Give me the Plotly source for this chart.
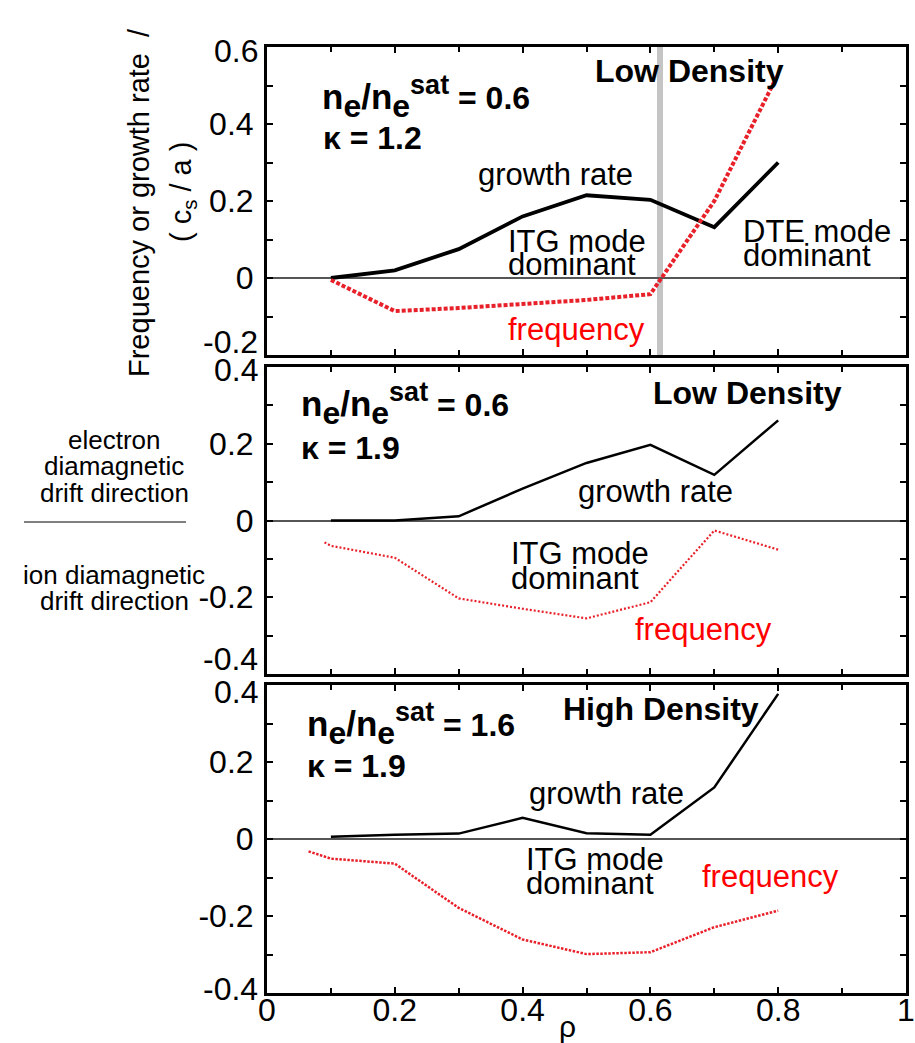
import plotly.graph_objects as go

# ---------------- data ----------------
rho = [0.1, 0.2, 0.3, 0.4, 0.5, 0.6, 0.7, 0.8]

# panel 1: n_e/n_e^sat = 0.6, kappa = 1.2
growth_k12 = [0.0, 0.02, 0.075, 0.16, 0.215, 0.203, 0.132, 0.30]
freq_k12 = [-0.005, -0.086, -0.078, -0.068, -0.057, -0.042, 0.20, 0.53]

# panel 2: n_e/n_e^sat = 0.6, kappa = 1.9
growth_k19_low = [0.0, 0.0, 0.011, 0.083, 0.150, 0.197, 0.119, 0.261]
freq_k19_low_rho = [0.09, 0.1, 0.2, 0.3, 0.4, 0.5, 0.6, 0.7, 0.8]
freq_k19_low = [-0.057, -0.066, -0.097, -0.203, -0.230, -0.255, -0.213, -0.026, -0.076]

# panel 3: n_e/n_e^sat = 1.6, kappa = 1.9
growth_k19_high = [0.006, 0.011, 0.014, 0.055, 0.015, 0.011, 0.134, 0.377]
freq_k19_high_rho = [0.065, 0.1, 0.2, 0.3, 0.4, 0.5, 0.6, 0.7, 0.8]
freq_k19_high = [-0.032, -0.051, -0.064, -0.179, -0.261, -0.299, -0.294, -0.229, -0.186]

x_ticks = [0, 0.2, 0.4, 0.6, 0.8, 1]
x_ticktext = ["0", "0.2", "0.4", "0.6", "0.8", "1"]
y1_ticks, y1_ticktext = [0, 0.2, 0.4], ["0", "0.2", "0.4"]
y23_ticks, y23_ticktext = [-0.2, 0, 0.2], ["-0.2", "0", "0.2"]
itg_transition = 0.615

# ---------------- page geometry ----------------
W_PAGE, H_PAGE = 915, 1043
L, R, T, B = 267, 906, 47, 993
PW, PH = R - L, B - T


def xp(px):
    return (px - L) / PW


def yp(py):
    return (B - py) / PH


FONT = "Liberation Sans, Arial, Helvetica, sans-serif"
RED_LINE = "#e8202a"
RED_TEXT = "#ff0000"

fig = go.Figure()

# growth rates (solid black) and real frequencies (red dotted)
fig.add_trace(go.Scatter(x=rho, y=growth_k12, mode="lines", xaxis="x", yaxis="y",
                         line=dict(color="black", width=3.8)))
fig.add_trace(go.Scatter(x=rho, y=freq_k12, mode="lines", xaxis="x", yaxis="y",
                         line=dict(color=RED_LINE, width=4, dash="4px,2px")))

fig.add_trace(go.Scatter(x=rho, y=growth_k19_low, mode="lines", xaxis="x2", yaxis="y2",
                         line=dict(color="black", width=2.5)))
fig.add_trace(go.Scatter(x=freq_k19_low_rho, y=freq_k19_low, mode="lines", xaxis="x2", yaxis="y2",
                         line=dict(color=RED_LINE, width=2.2, dash="2px,2px")))

fig.add_trace(go.Scatter(x=rho, y=growth_k19_high, mode="lines", xaxis="x3", yaxis="y3",
                         line=dict(color="black", width=2.5)))
fig.add_trace(go.Scatter(x=freq_k19_high_rho, y=freq_k19_high, mode="lines", xaxis="x3", yaxis="y3",
                         line=dict(color=RED_LINE, width=2.5, dash="2.5px,1.5px")))

# ---------------- axes ----------------
minor_x = dict(tickmode="linear", tick0=0, dtick=0.1, ticks="inside", ticklen=5,
               tickwidth=1.5, tickcolor="black")
minor_y = dict(tickmode="linear", tick0=0, dtick=0.1, ticks="inside", ticklen=6,
               tickwidth=1.5, tickcolor="black")


def xaxis(anchor, labels):
    return dict(domain=[0, 1], anchor=anchor, range=[0, 1], tickmode="array",
                tickvals=x_ticks, ticktext=x_ticktext, showticklabels=labels,
                ticks="inside", ticklen=6, tickwidth=1.5, tickcolor="black",
                showline=True, linewidth=3, linecolor="black", mirror="allticks",
                showgrid=False, zeroline=False, minor=minor_x, automargin=False,
                tickfont=dict(size=32, family=FONT, color="black"),
                ticklabelstandoff=-13)


def yaxis(anchor, domain, rng, vals, text):
    return dict(domain=domain, anchor=anchor, range=rng, tickmode="array",
                tickvals=vals, ticktext=text, ticks="inside", ticklen=6,
                tickwidth=1.5, tickcolor="black", showline=True, linewidth=3,
                linecolor="black", mirror="allticks", showgrid=False,
                zeroline=True, zerolinecolor="#555555", zerolinewidth=1.5,
                minor=minor_y, automargin=False,
                tickfont=dict(size=32, family=FONT, color="black"),
                ticklabelstandoff=4)


fig.update_layout(
    width=W_PAGE, height=H_PAGE,
    margin=dict(l=L, r=W_PAGE - R, t=T, b=H_PAGE - B),
    paper_bgcolor="white", plot_bgcolor="white", showlegend=False,
    font=dict(family=FONT, color="black", size=30),
    xaxis=xaxis("y", False),
    xaxis2=xaxis("y2", False),
    xaxis3=xaxis("y3", True),
    yaxis=yaxis("x", [yp(355), 1], [-0.2, 0.6], y1_ticks, y1_ticktext),
    yaxis2=yaxis("x2", [yp(674), yp(367)], [-0.4, 0.4], y23_ticks, y23_ticktext),
    yaxis3=yaxis("x3", [0, yp(685)], [-0.4, 0.4], y23_ticks, y23_ticktext),
)

# boundary between ITG- and DTE-dominated regions
fig.add_shape(type="line", xref="x", yref="y domain", x0=itg_transition, x1=itg_transition,
              y0=0, y1=1, line=dict(color="#c4c4c4", width=6), layer="below")

# separator between the two drift-direction labels
fig.add_shape(type="line", xref="paper", yref="paper", x0=xp(24), x1=xp(186),
              y0=yp(522), y1=yp(522), line=dict(color="black", width=1))

annotations = []


def text_at(text, x_px, base_px, size, color="black", bold=False, anchor="left", desc=None):
    if bold:
        text = "<b>" + text + "</b>"
    d = 0.212 * size + 3 if desc is None else desc
    annotations.append(dict(text=text, xref="paper", yref="paper", x=xp(x_px),
                            y=yp(base_px + d), xanchor=anchor, yanchor="bottom",
                            showarrow=False, borderpad=0,
                            font=dict(size=size, color=color, family=FONT)))


def density_label(value):
    return ("<span style='font-size:35px'>n</span><sub><span style='font-size:32px'>e</span></sub>"
            "<span style='font-size:35px'>/n</span><sub><span style='font-size:32px'>e</span></sub>"
            "<sup><span style='font-size:27px'>sat</span></sup>"
            "<span style='font-size:32px'> = " + value + "</span>")


# panel 1
text_at(density_label("0.6"), 321, 110, 36, bold=True, desc=15)
text_at("κ = 1.2", 322, 147, 32, bold=True)
text_at("Low Density", 594, 80, 32, bold=True)
text_at("growth rate", 477, 183, 31)
text_at("ITG mode", 507, 250, 31)
text_at("dominant", 507, 273, 31)
text_at("frequency", 507, 338, 31, color=RED_TEXT)
text_at("DTE mode", 742, 240, 31)
text_at("dominant", 742, 264, 31)

# panel 2
text_at(density_label("0.6"), 300, 417, 36, bold=True, desc=15)
text_at("κ = 1.9", 300, 457, 32, bold=True)
text_at("Low Density", 652, 402, 32, bold=True)
text_at("growth rate", 577, 500, 31)
text_at("ITG mode", 510, 562, 31)
text_at("dominant", 510, 587, 31)
text_at("frequency", 634, 638, 31, color=RED_TEXT)

# panel 3
text_at(density_label("1.6"), 306, 737, 36, bold=True, desc=15)
text_at("κ = 1.9", 306, 775, 32, bold=True)
text_at("High Density", 562, 718, 32, bold=True)
text_at("growth rate", 528, 802, 31)
text_at("ITG mode", 525, 868, 31)
text_at("dominant", 525, 892, 31)
text_at("frequency", 701, 885, 31, color=RED_TEXT)

# drift-direction labels on the left
for line, base in [("electron", 447), ("diamagnetic", 473), ("drift direction", 500),
                   ("ion diamagnetic", 582), ("drift direction", 608)]:
    text_at(line, 114, base, 26, anchor="center")

# y-axis title (two rotated lines)
annotations.append(dict(text="Frequency or growth rate  /", xref="paper", yref="paper",
                        x=xp(139), y=yp(203), xanchor="center", yanchor="middle",
                        textangle=-90, showarrow=False, font=dict(size=29, family=FONT)))
annotations.append(dict(text="( c<sub>s</sub> / a )", xref="paper", yref="paper",
                        x=xp(183), y=yp(192), xanchor="center", yanchor="middle",
                        textangle=-90, showarrow=False, font=dict(size=29, family=FONT)))

# x-axis title
annotations.append(dict(text="ρ", xref="paper", yref="paper", x=xp(567), y=yp(1009),
                        xanchor="center", yanchor="top", showarrow=False, borderpad=0,
                        font=dict(size=30, family=FONT)))

# outermost y tick labels, nudged inward so neighbouring panels do not collide
for txt, yref, val, shift in [("0.6", "y", 0.6, -4), ("-0.2", "y", -0.2, 13),
                              ("0.4", "y2", 0.4, -3), ("-0.4", "y2", -0.4, 15),
                              ("0.4", "y3", 0.4, -7), ("-0.4", "y3", -0.4, 4)]:
    annotations.append(dict(text=txt, xref="paper", yref=yref, x=0, y=val,
                            xanchor="right", yanchor="middle", xshift=-8, yshift=shift,
                            showarrow=False, borderpad=0,
                            font=dict(size=32, family=FONT, color="black")))

fig.update_layout(annotations=annotations)

fig.write_html("out.html")
